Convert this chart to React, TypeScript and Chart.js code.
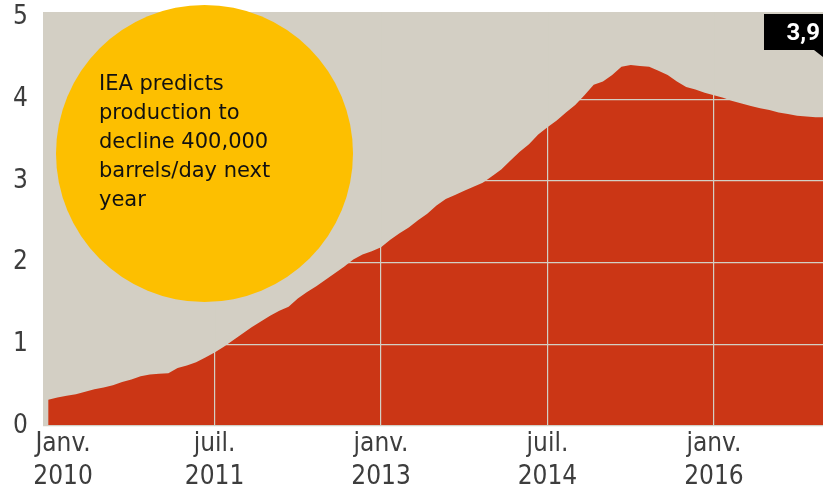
import React, { useEffect, useRef } from 'react';
import { Chart, registerables } from 'chart.js';

Chart.register(...registerables);

// Monthly production (million barrels/day), starting January 2010
const startLabel = 'Janv. 2010';
const production: number[] = [
  0.32, 0.35, 0.37, 0.39, 0.42, 0.45, 0.47, 0.50, 0.54, 0.57, 0.61, 0.63,
  0.64, 0.645, 0.71, 0.74, 0.78, 0.84, 0.90, 0.97, 1.05, 1.13, 1.21, 1.28,
  1.35, 1.41, 1.46, 1.56, 1.64, 1.71, 1.79, 1.87, 1.95, 2.04, 2.10, 2.14,
  2.19, 2.28, 2.36, 2.43, 2.52, 2.60, 2.70, 2.78, 2.83, 2.88, 2.93, 2.98,
  3.06, 3.14, 3.25, 3.36, 3.45, 3.57, 3.66, 3.74, 3.84, 3.93, 4.05, 4.18,
  4.22, 4.30, 4.40, 4.42, 4.41, 4.40, 4.35, 4.30, 4.22, 4.15, 4.12, 4.08,
  4.05, 4.02, 3.98, 3.95, 3.92, 3.89, 3.87, 3.84, 3.82, 3.80, 3.79, 3.78,
  3.78,
];

const xTickMonths: number[] = [0, 18, 36, 54, 72];
const xTickLabels: string[][] = [
  ['    Janv.', '    2010'],
  ['juil.', '2011'],
  ['janv.', '2013'],
  ['juil.', '2014'],
  ['janv.', '2016'],
];
const yTickValues: number[] = [0, 1, 2, 3, 4, 5];
const noteLines: string[] = [
  'IEA predicts',
  'production to',
  'decline 400,000',
  'barrels/day next',
  'year',
];
const lastValueLabel = '3,9';

const RED = '#cb3615';
const BG = '#d3cfc4';
const GRID = '#d3cfc4';
const YELLOW = '#fdbf00';
const TICK_COLOR = '#3d3d3d';
const TICK_FONT = 'Liberation Sans Narrow, DejaVu Sans Condensed, sans-serif';

const bgPlugin = {
  id: 'bgPlugin',
  beforeDatasetsDraw(chart: any) {
    const { ctx, chartArea } = chart;
    ctx.save();
    ctx.fillStyle = BG;
    ctx.fillRect(chartArea.left, chartArea.top, chartArea.right - chartArea.left, chartArea.bottom - chartArea.top);
    ctx.restore();
  },
};

const overlayPlugin = {
  id: 'overlayPlugin',
  afterDraw(chart: any) {
    const { ctx } = chart;
    ctx.save();
    // yellow annotation circle
    ctx.fillStyle = YELLOW;
    ctx.beginPath();
    ctx.arc(204.5, 153.5, 148.5, 0, Math.PI * 2);
    ctx.fill();
    ctx.fillStyle = '#111';
    ctx.font = '400 21px "DejaVu Sans", sans-serif';
    ctx.textBaseline = 'alphabetic';
    ctx.textAlign = 'left';
    noteLines.forEach((line, i) => {
      ctx.fillText(line, 99, 89.5 + i * 29);
    });

    // last value box
    ctx.fillStyle = '#000';
    ctx.fillRect(764, 14, 70, 36);
    ctx.beginPath();
    ctx.moveTo(814, 50);
    ctx.lineTo(823, 50);
    ctx.lineTo(823, 57);
    ctx.closePath();
    ctx.fill();
    ctx.fillStyle = '#fff';
    ctx.font = '700 24px "Liberation Sans Narrow", Roboto, sans-serif';
    ctx.textAlign = 'right';
    ctx.fillText(lastValueLabel, 820, 40);
    ctx.restore();
  },
};

export default function App() {
  const canvasRef = useRef<HTMLCanvasElement | null>(null);

  useEffect(() => {
    document.body.style.margin = '0';
    const canvas = canvasRef.current;
    if (!canvas) return;
    const chart = new Chart(canvas, {
      type: 'line',
      data: {
        datasets: [
          {
            label: startLabel,
            data: production.map((v, i) => ({ x: i, y: v })),
            fill: 'origin',
            backgroundColor: RED,
            borderWidth: 0,
            borderColor: RED,
            pointRadius: 0,
            tension: 0,
          },
        ],
      },
      options: {
        animation: false,
        responsive: false,
        devicePixelRatio: 1,
        layout: { padding: { top: 12, right: 0, left: 0, bottom: 0 } },
        plugins: {
          legend: { display: false },
          tooltip: { enabled: false },
        },
        scales: {
          x: {
            type: 'linear',
            min: -0.56,
            max: 83.8,
            afterBuildTicks: (axis: any) => {
              axis.ticks = xTickMonths.map((v) => ({ value: v }));
            },
            afterFit: (axis: any) => {
              axis.height = 61;
              axis.paddingLeft = 0;
              axis.paddingRight = 0;
            },
            ticks: {
              autoSkip: false,
              maxRotation: 0,
              padding: 2,
              color: TICK_COLOR,
              font: { family: TICK_FONT, size: 26, lineHeight: 1.25 },
              callback: (value: any) => {
                const idx = xTickMonths.indexOf(Number(value));
                return idx >= 0 ? xTickLabels[idx] : '';
              },
            },
            grid: {
              z: 1,
              color: (c: any) => (c.tick && c.tick.value === 0 ? 'rgba(0,0,0,0)' : GRID),
              lineWidth: 1.2,
              drawTicks: false,
            },
            border: { display: false },
          },
          y: {
            min: 0,
            max: 5.07,
            afterBuildTicks: (axis: any) => {
              axis.ticks = yTickValues.map((v) => ({ value: v }));
            },
            afterFit: (axis: any) => {
              axis.width = 43;
              axis.paddingTop = 0;
              axis.paddingBottom = 0;
            },
            ticks: {
              padding: 15,
              color: TICK_COLOR,
              font: { family: TICK_FONT, size: 26 },
            },
            grid: {
              z: 1,
              color: GRID,
              lineWidth: 1.2,
              drawTicks: false,
            },
            border: { display: false },
          },
        },
      },
      plugins: [bgPlugin, overlayPlugin],
    });
    return () => chart.destroy();
  }, []);

  return (
    <div style={{ width: 823, height: 487 }}>
      <canvas ref={canvasRef} width={823} height={487} style={{ display: 'block' }} />
    </div>
  );
}
